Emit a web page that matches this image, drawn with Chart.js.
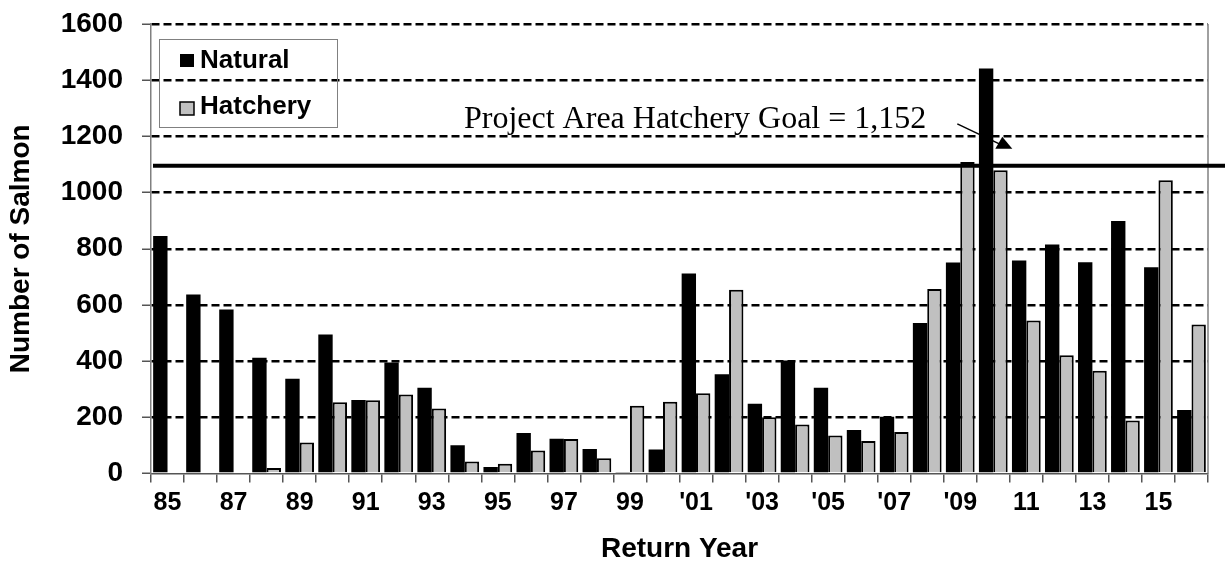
<!DOCTYPE html>
<html>
<head>
<meta charset="utf-8">
<script src="https://cdn.jsdelivr.net/npm/chart.js@4.4.1/dist/chart.umd.min.js"></script>
<style>
  html, body { margin: 0; padding: 0; background: #fff; }
  #wrap { width: 1225px; height: 569px; position: relative; }
</style>
</head>
<body>
<div id="wrap"><canvas id="salmonChart"></canvas></div>
<script>
// Return years 1985-2016
const years = [1985, 1986, 1987, 1988, 1989, 1990, 1991, 1992, 1993, 1994, 1995, 1996, 1997, 1998, 1999, 2000,
               2001, 2002, 2003, 2004, 2005, 2006, 2007, 2008, 2009, 2010, 2011, 2012, 2013, 2014, 2015, 2016];
const tickLabels = ['85', '', '87', '', '89', '', '91', '', '93', '', '95', '', '97', '', '99', '',
                    "'01", '', "'03", '', "'05", '', "'07", '', "'09", '', '11', '', '13', '', '15', ''];
const natural = [845, 637, 584, 412, 337, 495, 262, 395, 305, 101, 23, 144, 124, 87, 5, 85,
                 712, 353, 248, 402, 305, 155, 202, 536, 751, 1442, 758, 815, 752, 899, 734, 226];
const hatchery = [null, null, null, 20, 110, 254, 261, 281, 231, 43, 35, 82, 123, 54, 241, 255,
                  286, 654, 200, 174, 135, 116, 148, 657, 1109, 1079, 545, 421, 366, 189, 1044, 530];
const goalLineValue = 1095; // where the goal line sits on the axis
const goalText = 'Project Area Hatchery Goal = 1,152';

const SANS = "'Liberation Sans', Arial, sans-serif";
const SERIF = "'Liberation Serif', 'Times New Roman', serif";

// goal line, annotation, legend box and right border
const overlay = {
  id: 'overlay',
  afterDatasetsDraw(chart) {
    const { ctx, chartArea: a, scales: { x, y } } = chart;
    ctx.save();

    // right frame line
    ctx.strokeStyle = '#808080';
    ctx.lineWidth = 1.5;
    ctx.beginPath();
    ctx.moveTo(a.right, a.top);
    ctx.lineTo(a.right, a.bottom);
    ctx.stroke();

    // goal line, runs past the plot to the page edge
    const gy = y.getPixelForValue(goalLineValue);
    ctx.strokeStyle = '#000';
    ctx.lineWidth = 4;
    ctx.beginPath();
    ctx.moveTo(a.left + 2, gy);
    ctx.lineTo(chart.width, gy);
    ctx.stroke();

    // annotation text + arrow, placed next to the 2010 bars
    const cx = x.getPixelForValue(years.indexOf(2010));
    ctx.fillStyle = '#000';
    ctx.font = '32px ' + SERIF;
    ctx.textAlign = 'right';
    ctx.textBaseline = 'alphabetic';
    ctx.fillText(goalText, cx - 67, gy - 38);

    ctx.lineWidth = 1.5;
    ctx.beginPath();
    ctx.moveTo(cx - 36, gy - 42);
    ctx.lineTo(cx + 6, gy - 22);
    ctx.stroke();
    ctx.beginPath();
    ctx.moveTo(cx + 2, gy - 17);
    ctx.lineTo(cx + 9, gy - 29);
    ctx.lineTo(cx + 19, gy - 17);
    ctx.closePath();
    ctx.fill();

    // legend box inside plot
    const lx = a.left + 8, ly = a.top + 15;
    ctx.strokeStyle = '#808080';
    ctx.lineWidth = 1;
    ctx.strokeRect(lx + 0.5, ly + 0.5, 178, 88);
    ctx.font = 'bold 26px ' + SANS;
    ctx.textAlign = 'left';
    ctx.textBaseline = 'middle';
    ctx.fillStyle = '#000';
    ctx.fillRect(lx + 21, ly + 15, 14, 13);
    ctx.fillText('Natural', lx + 41, ly + 22);
    ctx.fillStyle = '#C0C0C0';
    ctx.fillRect(lx + 21, ly + 63, 14, 13);
    ctx.strokeStyle = '#000';
    ctx.lineWidth = 1.5;
    ctx.strokeRect(lx + 21, ly + 63, 14, 13);
    ctx.fillStyle = '#000';
    ctx.fillText('Hatchery', lx + 41, ly + 68);

    ctx.restore();
  }
};

new Chart(document.getElementById('salmonChart'), {
  type: 'bar',
  data: {
    labels: years,
    datasets: [
      {
        label: 'Natural',
        data: natural,
        backgroundColor: '#000',
        borderWidth: 0,
        categoryPercentage: 0.87,
        barPercentage: 1.0
      },
      {
        label: 'Hatchery',
        data: hatchery,
        backgroundColor: '#C0C0C0',
        borderColor: '#000',
        borderWidth: 2,
        categoryPercentage: 0.87,
        barPercentage: 1.0
      }
    ]
  },
  options: {
    responsive: true,
    maintainAspectRatio: false,
    animation: false,
    layout: { padding: { top: 24, right: 17, left: 0, bottom: 0 } },
    plugins: {
      legend: { display: false },
      tooltip: { enabled: false }
    },
    scales: {
      x: {
        afterFit(scale) { scale.height = 95.5; },
        grid: {
          offset: true,
          drawOnChartArea: false,
          drawTicks: true,
          tickLength: 9,
          color: '#555',
          lineWidth: 1.5
        },
        border: { color: '#555', width: 1.5 },
        ticks: {
          autoSkip: false,
          maxRotation: 0,
          padding: 6,
          color: '#000',
          font: { family: SANS, size: 25, weight: 'bold' },
          callback: (val, i) => tickLabels[i]
        },
        title: {
          display: true,
          text: 'Return Year',
          color: '#000',
          font: { family: SANS, size: 28, weight: 'bold' },
          padding: { top: 0, bottom: 3 }
        }
      },
      y: {
        min: 0,
        max: 1600,
        afterFit(scale) {
          scale.width = 151;
          scale.paddingTop = 0;
          scale.paddingBottom = 0;
        },
        ticks: {
          stepSize: 200,
          padding: 19,
          color: '#000',
          font: { family: SANS, size: 28, weight: 'bold' },
          callback: (val) => String(val)
        },
        grid: {
          color: (c) => c.tick && c.tick.value === 0 ? 'rgba(0,0,0,0)' : '#000',
          lineWidth: 2.5,
          tickLength: 9,
          tickColor: '#555',
          tickWidth: 1.5,
          tickBorderDash: []
        },
        // in v4 border.dash also dashes the grid lines
        border: { color: '#808080', width: 1.5, dash: [8, 4] },
        title: {
          display: true,
          text: 'Number of Salmon',
          color: '#000',
          font: { family: SANS, size: 28, weight: 'bold' },
          padding: { top: 4, bottom: 0 }
        }
      }
    }
  },
  plugins: [overlay]
});
</script>
</body>
</html>
